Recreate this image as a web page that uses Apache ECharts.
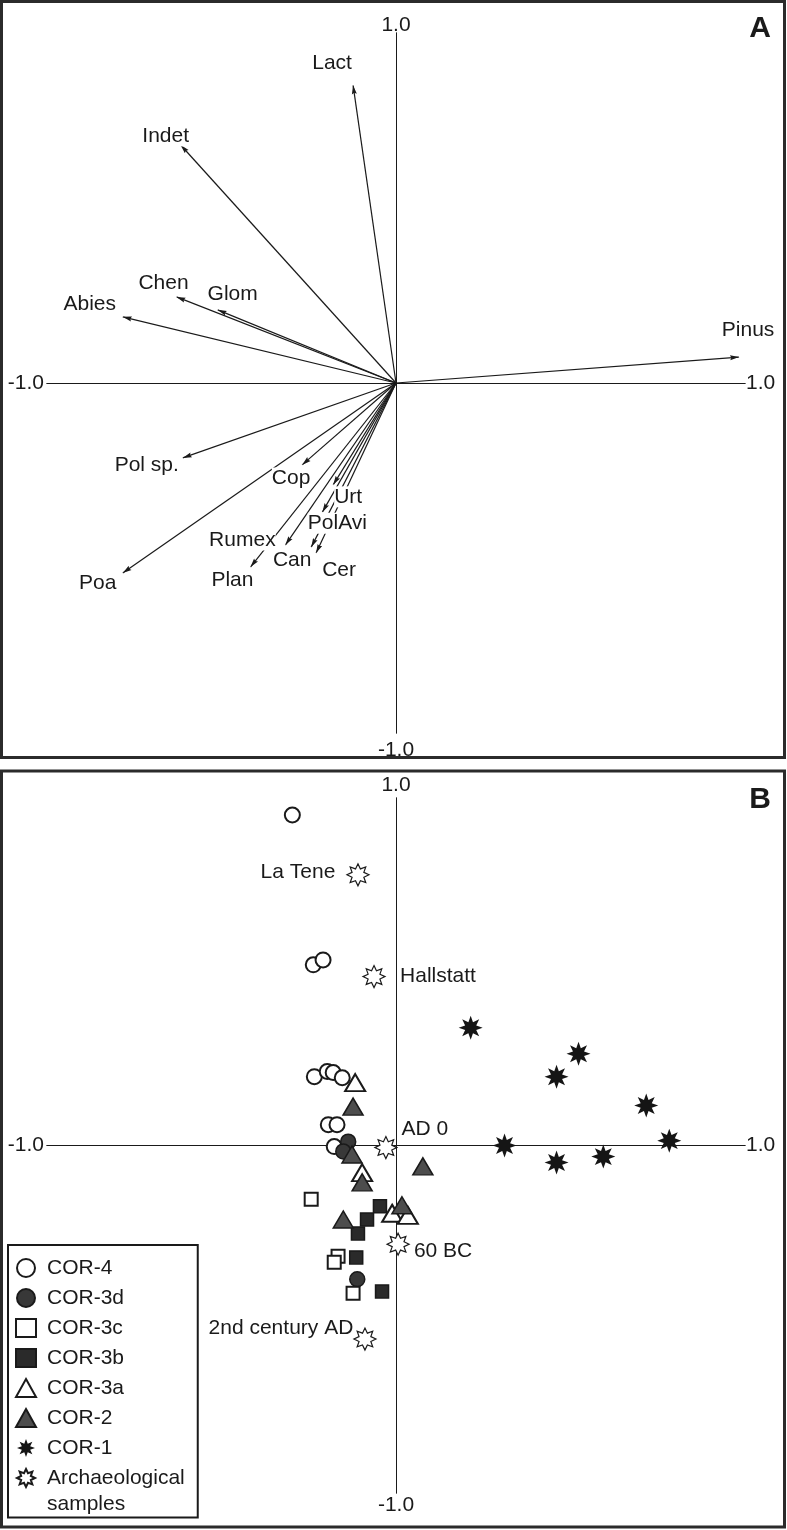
<!DOCTYPE html>
<html>
<head>
<meta charset="utf-8">
<script src="https://cdn.jsdelivr.net/npm/echarts@6/dist/echarts.min.js"></script>
<style>
  html, body { margin: 0; padding: 0; background: #fff; }
  #chart { width: 787px; height: 1530px; }
</style>
</head>
<body>
<div id="chart"></div>
<script>
// ---------------- DATA ----------------
const tickLabels = ['-1.0', '1.0'];
const panelLabels = ['A', 'B'];

// Panel A: species arrows (arrow tips, ordination coordinates)
const arrowNames = ['Lact', 'Indet', 'Chen', 'Glom', 'Abies', 'Pinus', 'Pol sp.', 'Poa', 'Cop', 'Urt', 'PolAvi', 'Rumex', 'Plan', 'Can', 'Cer'];
const arrowX = [-0.123, -0.617, -0.629, -0.511, -0.783, 0.983, -0.611, -0.783, -0.269, -0.180, -0.211, -0.317, -0.417, -0.243, -0.229];
const arrowY = [0.851, 0.680, 0.246, 0.209, 0.189, 0.074, -0.214, -0.543, -0.234, -0.291, -0.369, -0.463, -0.526, -0.469, -0.486];

// Panel B: samples
const seriesNames = ['COR-4', 'COR-3d', 'COR-3c', 'COR-3b', 'COR-3a', 'COR-2', 'COR-1', 'Archaeological samples'];
const cor4 = [[-0.297, 0.951], [-0.237, 0.520], [-0.209, 0.534], [-0.234, 0.198], [-0.197, 0.213], [-0.180, 0.210], [-0.154, 0.195], [-0.194, 0.060], [-0.169, 0.060], [-0.177, -0.003]];
const cor3d = [[-0.137, 0.011], [-0.151, -0.017], [-0.111, -0.385]];
const cor3c = [[-0.243, -0.155], [-0.166, -0.319], [-0.177, -0.336], [-0.123, -0.425]];
const cor3b = [[-0.046, -0.175], [-0.083, -0.213], [-0.109, -0.253], [-0.114, -0.322], [-0.040, -0.420]];
const cor3a = [[-0.117, 0.181], [-0.097, -0.078], [-0.011, -0.195], [0.034, -0.201]];
const cor2 = [[-0.123, 0.112], [-0.126, -0.026], [-0.097, -0.106], [0.077, -0.060], [-0.151, -0.213], [0.017, -0.172]];
const cor1 = [[0.214, 0.339], [0.523, 0.264], [0.460, 0.198], [0.717, 0.115], [0.783, 0.014], [0.311, 0.000], [0.460, -0.049], [0.594, -0.032]];
const archNames = ['La Tene', 'Hallstatt', 'AD 0', '60 BC', '2nd century AD'];
const archPoints = [[-0.109, 0.779], [-0.063, 0.486], [-0.029, -0.006], [0.006, -0.284], [-0.089, -0.557]];

// ---------------- STYLE / LAYOUT ----------------
const FONT = '"Liberation Sans", Arial, Helvetica, sans-serif';
const INK = '#1a1a1a';
// label centre offset from arrow tip (px)
const labelOffsetA = {
  'Lact': [-21, -22], 'Indet': [-15, -9], 'Chen': [-13, -14], 'Glom': [15, -16], 'Abies': [-33, -13],
  'Pinus': [9, -27], 'Pol sp.': [-36, 7], 'Poa': [-25, 10], 'Cop': [-11, 13], 'Urt': [15, 12],
  'PolAvi': [15, 11], 'Rumex': [-43, -5], 'Plan': [-18, 13], 'Can': [-19, 13], 'Cer': [23, 17]
};
const labelOffsetB = {
  'La Tene': [-60, -3], 'Hallstatt': [64, 0], 'AD 0': [39, -18], '60 BC': [45, 7], '2nd century AD': [-84, -11]
};

function starPath(rIn) {
  const pts = [];
  for (let i = 0; i < 16; i++) {
    const a = -Math.PI / 2 + i * Math.PI / 8;
    const r = i % 2 === 0 ? 50 : 50 * rIn;
    pts.push((50 + r * Math.cos(a)).toFixed(2) + ',' + (50 + r * Math.sin(a)).toFixed(2));
  }
  return 'path://M' + pts.join(' L') + ' Z';
}
const STAR_SOLID = starPath(0.5);
const STAR_OPEN = starPath(0.58);
// arrow head with its tip at the symbol centre (extent points fix the box)
const ARROW_HEAD = 'path://M0,0 M20,20 M10,10 L12.8,20 L10,18.6 L7.2,20 Z';

const nameStyle = { fontSize: 21, color: INK, fontFamily: FONT };

function makeAxes(gridIndex, otherIdx, endGap, startGap) {
  const base = {
    type: 'value', gridIndex: gridIndex, min: -1, max: 1,
    axisLine: { show: true, onZero: true, onZeroAxisIndex: otherIdx, lineStyle: { color: INK, width: 1 } },
    axisTick: { show: false }, axisLabel: { show: false }, splitLine: { show: false },
    nameTextStyle: nameStyle
  };
  return [
    Object.assign({}, base, { name: tickLabels[1], nameLocation: 'end', nameGap: endGap }),
    Object.assign({}, base, { name: tickLabels[0], nameLocation: 'start', nameGap: startGap })
  ];
}

const xAxes = [].concat(makeAxes(0, 0, 1, 3), makeAxes(1, 2, 1, 3));
const yAxes = [].concat(makeAxes(0, 0, -3, 7), makeAxes(1, 2, 2, 2));

function sampleSeries(name, data, symbol, size, fill, stroke, bw) {
  return {
    type: 'scatter', name: name, xAxisIndex: 2, yAxisIndex: 2,
    data: data, symbol: symbol, symbolSize: size,
    itemStyle: { color: fill, borderColor: stroke, borderWidth: bw, opacity: 1 },
    silent: true, z: 3
  };
}

const series = [
  {
    type: 'lines', coordinateSystem: 'cartesian2d', xAxisIndex: 0, yAxisIndex: 0,
    symbol: ['none', ARROW_HEAD], symbolSize: 18,
    lineStyle: { color: INK, width: 1.2, opacity: 1, curveness: 0 },
    data: arrowNames.map((n, i) => ({ name: n, coords: [[0, 0], [arrowX[i], arrowY[i]]] })),
    silent: true, z: 2
  },
  {
    type: 'scatter', xAxisIndex: 0, yAxisIndex: 0, symbolSize: 1,
    itemStyle: { color: '#fff', opacity: 1 },
    data: arrowNames.map((n, i) => ({ name: n, value: [arrowX[i], arrowY[i]], label: { offset: labelOffsetA[n] } })),
    label: { show: true, position: 'inside', formatter: '{b}', fontSize: 21, color: INK, fontFamily: FONT,
             textBorderWidth: 0, backgroundColor: '#fff', align: 'center', verticalAlign: 'middle' },
    silent: true, z: 4
  },
  sampleSeries('COR-4', cor4, 'circle', 15, '#fff', INK, 2),
  sampleSeries('COR-3d', cor3d, 'circle', 15, '#383838', INK, 1.5),
  sampleSeries('COR-3c', cor3c, 'rect', 13, '#fff', INK, 2),
  sampleSeries('COR-3b', cor3b, 'rect', 13, '#2a2a2a', INK, 1.5),
  sampleSeries('COR-3a', cor3a, 'triangle', [20, 17], '#fff', INK, 2),
  sampleSeries('COR-2', cor2, 'triangle', [20, 17], '#4d4d4d', INK, 1.5),
  sampleSeries('COR-1', cor1, STAR_SOLID, 24, '#151515', '#151515', 0),
  Object.assign(sampleSeries('Archaeological samples',
    archNames.map((n, i) => ({ name: n, value: archPoints[i], label: { offset: labelOffsetB[n] } })),
    STAR_OPEN, 22, '#fff', INK, 1.2), {
    label: { show: true, position: 'inside', formatter: '{b}', fontSize: 21, color: INK, fontFamily: FONT,
             textBorderWidth: 0, align: 'center', verticalAlign: 'middle' }
  })
];

const ARCH = 'Archaeological samples';
const legendData = seriesNames.map(n => n === ARCH
  ? { name: n, textStyle: { padding: [0, 0, -26, 6] } }
  : n);

const chart = echarts.init(document.getElementById('chart'), null, { renderer: 'canvas' });
chart.setOption({
  animation: false,
  backgroundColor: '#fff',
  textStyle: { fontFamily: FONT },
  grid: [
    { left: 47, top: 33, width: 698, height: 700, containLabel: false, outerBoundsMode: 'none' },
    { left: 47, top: 798, width: 698, height: 695, containLabel: false, outerBoundsMode: 'none' }
  ],
  xAxis: xAxes,
  yAxis: yAxes,
  legend: {
    orient: 'vertical', left: 8, top: 1245, height: 300,
    itemWidth: 20, itemHeight: 18, itemGap: 4,
    padding: [10, 13, 3, 7],
    borderColor: INK, borderWidth: 2, backgroundColor: '#fff', borderRadius: 0,
    selectedMode: false,
    data: legendData,
    formatter: n => n === ARCH ? '{t|Archaeological}\n{t|samples}' : n,
    textStyle: {
      fontSize: 21, color: INK, fontFamily: FONT, lineHeight: 26, padding: [0, 0, 0, 6],
      rich: { t: { fontSize: 21, color: INK, fontFamily: FONT, lineHeight: 26 } }
    }
  },
  graphic: [
    { type: 'rect', silent: true, z: 0, shape: { x: 1.5, y: 1.5, width: 783, height: 756 },
      style: { fill: 'none', stroke: '#2b2b2b', lineWidth: 3 } },
    { type: 'rect', silent: true, z: 0, shape: { x: 1.5, y: 771, width: 783, height: 756 },
      style: { fill: 'none', stroke: '#2b2b2b', lineWidth: 3 } },
    { type: 'text', silent: true, x: 760, y: 29,
      style: { text: panelLabels[0], font: 'bold 30px ' + FONT, align: 'center', verticalAlign: 'middle', fill: INK } },
    { type: 'text', silent: true, x: 760, y: 800,
      style: { text: panelLabels[1], font: 'bold 30px ' + FONT, align: 'center', verticalAlign: 'middle', fill: INK } }
  ],
  series: series
});
</script>
</body>
</html>
